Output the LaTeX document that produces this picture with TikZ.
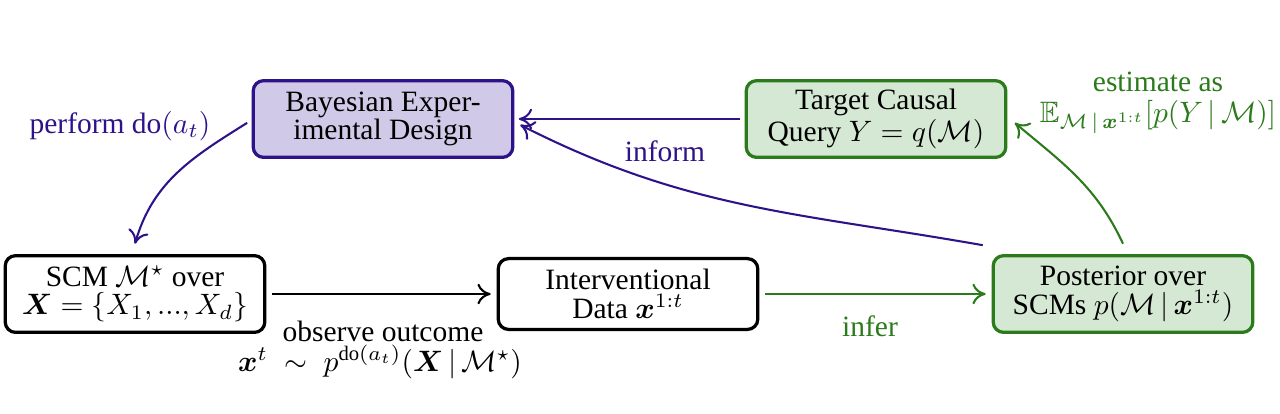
\documentclass[tikz,border=0pt]{standalone}
\usepackage{amsmath,amssymb}
\usepackage{fontspec}
\setmainfont{Liberation Serif}
\usetikzlibrary{arrows.meta}
\definecolor{ind}{HTML}{2E1289}
\definecolor{lav}{HTML}{D0C9E7}
\definecolor{grn}{HTML}{2B7A1B}
\definecolor{lgrn}{HTML}{D5E8D4}
\begin{document}
\begin{tikzpicture}[x=0.339pt,y=-0.339pt,
  box/.style={draw, rounded corners=3.5pt, line width=1.1pt, minimum width=88pt, minimum height=26pt,
    align=center, inner sep=1pt, font=\fontsize{10}{9.6}\selectfont},
  arr/.style={line width=0.7pt, -{To[length=4.5pt,width=7pt]}},
  lbl/.style={font=\fontsize{10}{10}\selectfont, inner sep=0pt, align=center}]
\useasboundingbox (0,0) rectangle (1280,413);
\node[box, draw=ind, fill=lav] (bed) at (383,119) {Bayesian Exper-\\imental Design};
\node[box, draw=grn, fill=lgrn] (tgt) at (876,119) {Target Causal\\Query $Y=q(\mathcal{M})$};
\node[box, draw=black, fill=white] (scm) at (135,294) {SCM $\mathcal{M}^\star$ over\\$\boldsymbol{X}=\{X_1,...,X_d\}$};
\node[box, draw=black, fill=white, minimum height=24pt] (int) at (628,294) {Interventional\\Data $\boldsymbol{x}^{1:t}$};
\node[box, draw=grn, fill=lgrn] (post) at (1123,294) {Posterior over\\SCMs $p(\mathcal{M}\,|\,\boldsymbol{x}^{1:t})$};

\draw[arr, ind] ([xshift=-1.5pt]tgt.west) -- ([xshift=1.5pt]bed.east);
\draw[arr, ind] ([xshift=-3pt,yshift=3pt]post.north west) to[out=170, in=-27] ([xshift=2pt,yshift=-2pt]bed.east);
\draw[arr, ind] ([xshift=-1.5pt,yshift=-1.3pt]bed.west) to[out=212, in=74] ([yshift=3.5pt]scm.north);
\draw[arr, black] ([xshift=2pt]scm.east) -- ([xshift=-2pt]int.west);
\draw[arr, grn] ([xshift=2pt]int.east) -- ([xshift=-2pt]post.west);
\draw[arr, grn] ([yshift=3.5pt]post.north) to[out=115, in=-40] ([xshift=2.5pt,yshift=-1.3pt]tgt.east);

\node[lbl, text=ind] (l1) at (120,126) {perform do$(a_t)$};
\node[lbl, text=ind] (l2) at (665,151) {inform};
\node[lbl, text=grn] (l3) at (870,326) {infer};
\node[lbl, text=black] (l4) at (383,331) {observe outcome};
\node[lbl, text=black] (l5) at (380,362) {$\boldsymbol{x}^t\;\sim\;p^{\mathrm{do}(a_t)}(\boldsymbol{X}\,|\,\mathcal{M}^\star)$};
\node[lbl, text=grn] (l6) at (1158,82) {estimate as};
\node[lbl, text=grn] (l7) at (1158,117) {$\mathbb{E}_{\mathcal{M}\,|\,\boldsymbol{x}^{1:t}}[p(Y\,|\,\mathcal{M})]$};
\end{tikzpicture}
\end{document}
